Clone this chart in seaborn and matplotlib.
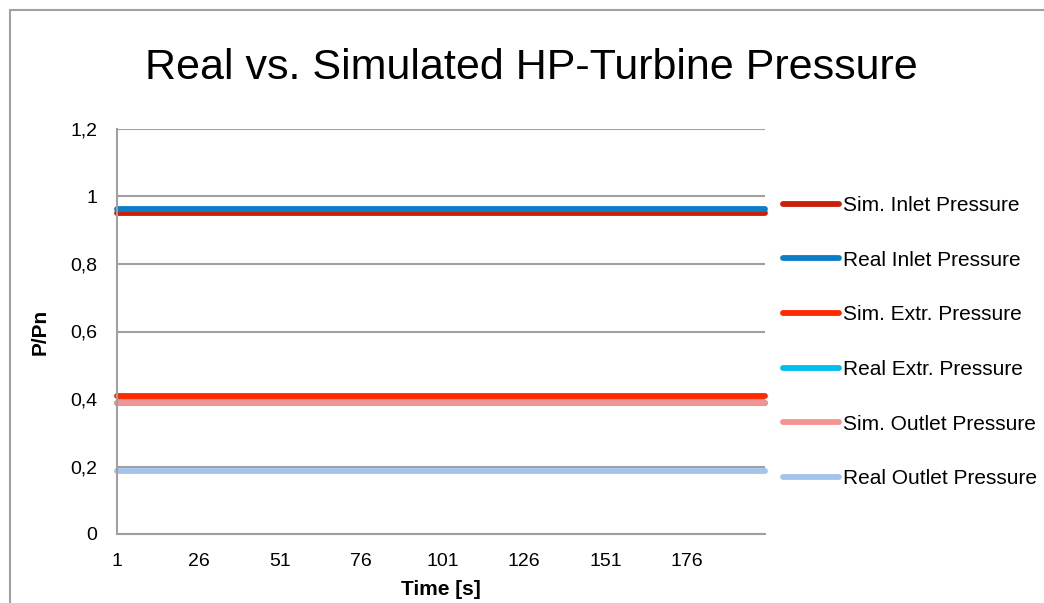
"""
Real vs. Simulated HP-Turbine Pressure - line chart recreated with seaborn.
"""

import pandas as pd
import matplotlib
matplotlib.use("Agg")  # render to file, no GUI needed
import matplotlib.pyplot as plt
from matplotlib.patches import Rectangle
from matplotlib.ticker import FuncFormatter
import seaborn as sns

# ---- data ----
TIME = list(range(1, 201))
SERIES = [
    "Sim. Inlet Pressure",
    "Real Inlet Pressure",
    "Sim. Extr. Pressure",
    "Real Extr. Pressure",
    "Sim. Outlet Pressure",
    "Real Outlet Pressure",
]
# every series is flat over the whole run
LEVELS = [0.950, 0.963, 0.410, 0.389, 0.387, 0.187]
COLORS = ["#C8200A", "#0A7FC8", "#FF2A00", "#00BFEF", "#F59393", "#A3C4EA"]
Y_TICKS = [0, 0.2, 0.4, 0.6, 0.8, 1.0, 1.2]
X_TICKS = [1, 26, 51, 76, 101, 126, 151, 176]

sns.set_theme(style="white")
plt.rcParams["font.family"] = ["Liberation Sans", "DejaVu Sans"]
plt.rcParams["text.color"] = "black"
plt.rcParams["axes.labelcolor"] = "black"

rows = []
for name, level in zip(SERIES, LEVELS):
    for t in TIME:
        rows.append({"time": t, "value": level, "series": name})
df = pd.DataFrame(rows)

fig = plt.figure(figsize=(10.44, 6.03), dpi=100)
ax = fig.add_axes([117 / 1044, 69 / 603, 648 / 1044, 405 / 603])

# outer chart frame (cut off at right and bottom like the original)
fig.patches.append(Rectangle((10 / 1044, -0.2), 1.2, 1.2 - 10 / 603,
                             transform=fig.transFigure, fill=False,
                             edgecolor="#A0A0A0", linewidth=1.5))

sns.lineplot(data=df, x="time", y="value", hue="series", hue_order=SERIES,
             palette=dict(zip(SERIES, COLORS)), linewidth=4.2,
             solid_capstyle="round", clip_on=False, ax=ax)

ax.set_xlim(1, 200)
ax.set_ylim(0, 1.2)
ax.set_yticks(Y_TICKS)
ax.set_xticks(X_TICKS)
ax.yaxis.set_major_formatter(FuncFormatter(lambda v, p: f"{v:g}".replace(".", ",")))
ax.tick_params(axis="both", length=0, labelsize=14, colors="black")
ax.tick_params(axis="x", pad=14)
ax.tick_params(axis="y", pad=14)
ax.yaxis.grid(True, color="#A0A0A0", linewidth=1.5)
ax.set_axisbelow(True)
for side in ["top", "right"]:
    ax.spines[side].set_visible(False)
for side in ["left", "bottom"]:
    ax.spines[side].set_color("#A0A0A0")
    ax.spines[side].set_linewidth(1.5)

ax.set_xlabel("Time [s]", fontsize=15, fontweight="bold", labelpad=7)
ax.set_ylabel("P/Pn", fontsize=15, fontweight="bold", labelpad=15)
fig.text(531 / 1044, 1 - 68 / 603, "Real vs. Simulated HP-Turbine Pressure",
         ha="center", va="center", fontsize=31)

handles, labels = ax.get_legend_handles_labels()
ax.legend(handles, labels, loc="upper left",
          bbox_to_anchor=(783 / 1044, 1 - 196 / 603),
          bbox_transform=fig.transFigure, frameon=False, fontsize=15,
          borderpad=0, borderaxespad=0, handlelength=2.7, handletextpad=0.2,
          labelspacing=1.71)

plt.savefig("out.png", dpi=100)
plt.close()
